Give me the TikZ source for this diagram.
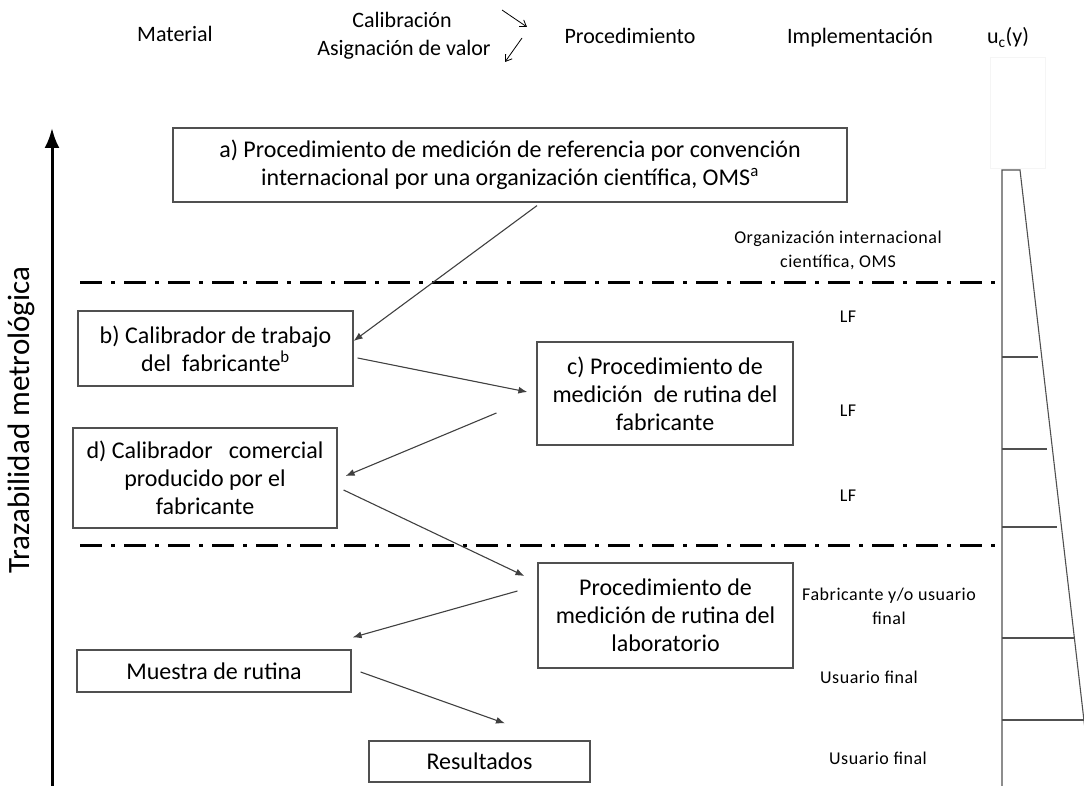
\documentclass[tikz,border=0pt]{standalone}
\usepackage{fontspec}
\setmainfont{Carlito}
\newfontfamily\sidefont[LetterSpace=3]{Carlito}
\usetikzlibrary{arrows.meta,calc}
\definecolor{boxc}{HTML}{505050}
\definecolor{arrc}{HTML}{404040}
\tikzset{
  box/.style={draw=boxc, line width=1.2pt, align=center, inner sep=0pt, font=\fontsize{24}{28}\selectfont},
  conn/.style={draw=arrc, line width=1.1pt, -{Latex[length=9pt,width=7pt]}},
  head/.style={font=\fontsize{22}{26}\selectfont, inner sep=0pt, anchor=base},
  side/.style={font=\sidefont\fontsize{18}{24}\selectfont, align=center, inner sep=0pt},
  level/.style={line width=3pt, dash pattern=on 22pt off 9pt on 4pt off 9pt},
  uscale/.style={draw=boxc, line width=1.1pt}
}
\begin{document}
\begin{tikzpicture}[x=1pt,y=-1pt]
\useasboundingbox (0,0) rectangle (1084,786);
% headers
\node[head] (hmat) at (175,42) {Material};
\node[head] (hcal) at (402,28) {Calibración};
\node[head] (hasig) at (404,56) {Asignación de valor};
\node[head] (hproc) at (630,44) {Procedimiento};
\node[head] (himp) at (860,44) {Implementación};
\node[head] (huc) at (1008,44) {u\textsubscript{c}(y)};
\coordinate (ar1s) at (502,10); \coordinate (ar1e) at (527,27);
\coordinate (ar2s) at (522,38); \coordinate (ar2e) at (505,62);
\draw[line width=0.8pt, -{Straight Barb[length=6pt,width=8pt]}] (ar1s) -- (ar1e);
\draw[line width=0.8pt, -{Straight Barb[length=6pt,width=8pt]}] (ar2s) -- (ar2e);
% faint box
\draw[gray!8, line width=0.8pt] (990,57) rectangle (1045,168);
% vertical arrow
\coordinate (vbot) at (52,786); \coordinate (vtop) at (52,128);
\draw[line width=3pt, -{Latex[length=20pt,width=15pt]}] (vbot) -- (vtop);
\node[rotate=90, font=\fontsize{31}{34}\selectfont, inner sep=0pt] (traz) at (21,420) {Trazabilidad metrológica};
% level lines
\coordinate (l1a) at (80,283); \coordinate (l1b) at (995,283);
\coordinate (l2a) at (80,545); \coordinate (l2b) at (995,545);
\draw[level] (l1a) -- (l1b);
\draw[level] (l2a) -- (l2b);
% boxes
\node[box, minimum width=674pt, minimum height=74pt] (a) at (510,165) {a) Procedimiento de medición de referencia por convención\\internacional por una organización científica, OMS\textsuperscript{a}};
\node[box, minimum width=275pt, minimum height=75pt] (b) at (215.5,348.5) {b) Calibrador de trabajo\\del\ \ fabricante\textsuperscript{b}};
\node[box, minimum width=256pt, minimum height=103pt] (c) at (665,393.5) {c) Procedimiento de\\medición\ \ de rutina del\\fabricante};
\node[box, minimum width=264pt, minimum height=100pt] (d) at (205,478) {d) Calibrador\ \ \ comercial\\producido por el\\fabricante};
\node[box, minimum width=255pt, minimum height=105pt] (lab) at (665.5,615.5) {Procedimiento de\\medición de rutina del\\laboratorio};
\node[box, minimum width=274pt, minimum height=42pt] (mu) at (214,671) {Muestra de rutina};
\node[box, minimum width=221pt, minimum height=41pt] (res) at (479.5,761.5) {Resultados};
% connectors
\draw[conn] ([shift={(27pt,-3pt)}]a.south) -- ([yshift=7.5pt]b.east);
\draw[conn] ([shift={(4pt,-9.5pt)}]b.east) -- ([shift={(-9pt,1.5pt)}]c.west);
\draw[conn] ([shift={(-40pt,-19.5pt)}]c.west) -- ([shift={(8pt,2pt)}]d.east);
\draw[conn] ([shift={(6pt,-12pt)}]d.east) -- ([shift={(-13pt,39.5pt)}]lab.west);
\draw[conn] ([shift={(-20pt,24.5pt)}]lab.west) -- ([shift={(1pt,12pt)}]mu.north east);
\draw[conn] ([shift={(9pt,-1pt)}]mu.east) -- ([shift={(25.5pt,17pt)}]res.north);
% side labels
\node[side] (s1) at (838,250) {Organización internacional\\científica, OMS};
\node[side] (s2) at (848,317) {LF};
\node[side] (s3) at (848,411) {LF};
\node[side] (s4) at (848,496) {LF};
\node[side] (s5) at (889,606) {Fabricante y/o usuario\\final};
\node[side] (s6) at (869,677) {Usuario final};
\node[side] (s7) at (878,758) {Usuario final};
% uncertainty scale
\draw[uscale] (1002,786) -- (1002,170) -- (1020,170) -- (1086,738);
\draw[uscale] (1002,357) -- (1038,357);
\draw[uscale] (1002,449) -- (1047,449);
\draw[uscale] (1002,527) -- (1057,527);
\draw[uscale] (1002,638) -- (1074,638);
\draw[uscale] (1002,720) -- (1084,720);
\end{tikzpicture}
\end{document}
